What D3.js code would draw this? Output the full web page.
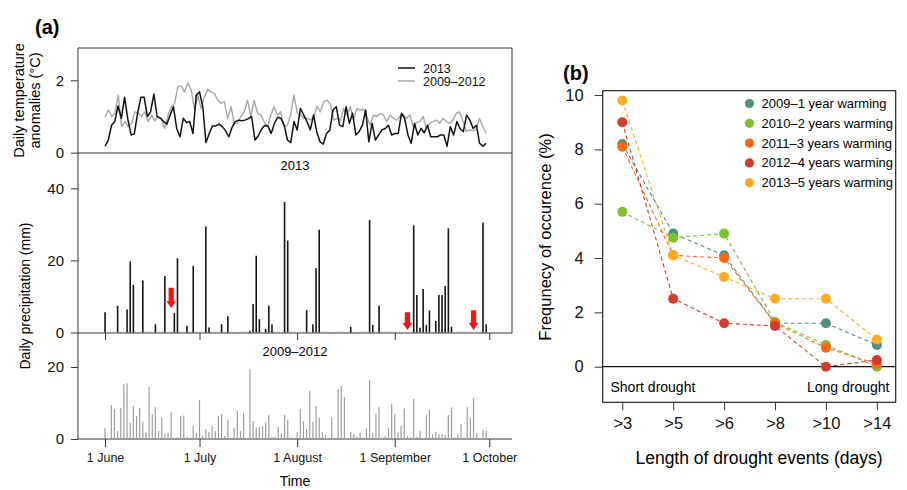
<!DOCTYPE html>
<html>
<head>
<meta charset="utf-8">
<script src="https://cdn.jsdelivr.net/npm/d3@7"></script>
<style>
  body { margin: 0; background: #fff; }
  svg { font-family: "Liberation Sans", Arial, sans-serif; }
</style>
</head>
<body>
<div class="container"></div>
<script>
var width = 907, height = 490;

// ---- panel (a) data ----
// daily temperature anomalies, 1 June .. 30 Sept
var temp2013 = [0.18, 0.35, 0.76, 0.86, 1.29, 0.95, 1.53, 0.92, 0.49, 0.52,
  1.09, 1.53, 1.53, 1.0, 1.13, 1.62, 1.0, 0.95, 0.86, 0.79,
  1.04, 1.27, 0.67, 0.44, 0.95, 0.83, 0.86, 0.53, 1.59, 1.68,
  1.27, 0.28, 0.53, 0.74, 0.74, 0.79, 0.72, 0.61, 0.44, 0.70,
  0.86, 0.90, 0.88, 0.90, 0.94, 1.0, 0.35, 0.46, 0.64, 0.75,
  0.74, 0.53, 0.81, 0.98, 0.95, 0.76, 0.35, 0.28, 0.86, 0.63,
  1.22, 1.04, 0.86, 0.63, 1.04, 0.58, 0.30, 0.24, 0.53, 0.63,
  1.18, 1.27, 0.76, 0.72, 1.27, 0.81, 1.09, 0.49, 0.58, 0.76,
  1.18, 0.30, 0.81, 0.35, 0.49, 0.63, 0.67, 0.76, 0.49, 0.53,
  0.53, 1.09, 0.95, 0.49, 0.26, 0.81, 0.49, 0.67, 0.55, 0.76,
  0.44, 0.44, 0.44, 0.49, 0.49, 0.18, 0.72, 0.49, 0.86, 0.67,
  0.58, 1.04, 0.90, 0.67, 0.76, 0.26, 0.18, 0.26];

var temp0912 = [0.98, 1.18, 1.0, 1.09, 1.59, 0.72, 0.86, 0.72, 0.81, 1.13,
  1.10, 1.0, 1.13, 0.86, 1.04, 0.88, 1.0, 0.95, 0.67, 1.04,
  1.27, 1.36, 1.84, 1.84, 1.68, 1.93, 1.73, 1.18, 1.59, 1.22,
  1.55, 1.75, 1.68, 1.64, 1.45, 1.36, 1.41, 0.95, 1.27, 0.81,
  0.81, 1.0, 1.13, 1.45, 1.0, 1.45, 1.09, 1.04, 0.86, 0.72,
  1.04, 1.27, 1.04, 1.13, 0.72, 0.76, 1.04, 1.59, 1.09, 1.04,
  0.95, 0.95, 0.90, 1.0, 1.29, 1.13, 1.41, 1.45, 1.34, 0.90,
  0.95, 0.90, 1.22, 1.04, 1.27, 0.90, 1.22, 1.18, 1.20, 1.0,
  0.76, 1.04, 1.0, 1.09, 1.04, 0.86, 1.04, 0.95, 0.90, 1.0,
  1.04, 0.95, 1.04, 0.72, 0.83, 0.86, 1.0, 0.67, 0.81, 0.86,
  0.90, 0.81, 0.95, 0.86, 0.81, 0.90, 1.09, 1.13, 0.86, 0.58,
  0.63, 0.61, 0.63, 0.95, 0.72, 0.53];

// 2013 daily precipitation (mm), rainy days only
var rain2013Dates = ["2013-06-01", "2013-06-05", "2013-06-08", "2013-06-09", "2013-06-10",
  "2013-06-13", "2013-06-17", "2013-06-20", "2013-06-23", "2013-06-24", "2013-06-27",
  "2013-06-29", "2013-07-03", "2013-07-04", "2013-07-08", "2013-07-10", "2013-07-17",
  "2013-07-18", "2013-07-19", "2013-07-20", "2013-07-22", "2013-07-23", "2013-07-24",
  "2013-07-28", "2013-07-29", "2013-08-04", "2013-08-06", "2013-08-07", "2013-08-08",
  "2013-08-18", "2013-08-24", "2013-08-25", "2013-08-27", "2013-09-07", "2013-09-08",
  "2013-09-09", "2013-09-10", "2013-09-11", "2013-09-12", "2013-09-14", "2013-09-15",
  "2013-09-16", "2013-09-17", "2013-09-18", "2013-09-19", "2013-09-29", "2013-09-30"];
var rain2013Values = [5.6, 7.4, 6.4, 19.7, 13.2,
  14.4, 2.3, 15.7, 5.4, 20.6, 1.9,
  18.5, 29.4, 1.4, 2.3, 4.5, 0.5,
  7.9, 21.3, 3.7, 1.0, 7.4, 2.3,
  36.2, 25.5, 6.2, 2.3, 17.8, 28.5,
  1.6, 31.2, 2.1, 7.4, 29.7, 10.4,
  1.3, 12.1, 2.1, 6.1, 3.2, 10.4,
  10.4, 12.9, 28.9, 1.6, 30.5, 2.3];

// 2009-2012 mean daily precipitation (mm), every day from 1 June
var rain0912 = [3.0, 0, 9.4, 8.3, 2.2, 8.7, 15.2, 15.5, 4.5, 9.2,
  6.4, 8.7, 4.8, 1.8, 14.4, 6.9, 8.9, 2.2, 5.9, 1.3,
  1.6, 7.4, 0, 0.5, 6.4, 6.5, 0.6, 0, 3.6, 1.6,
  10.8, 0.9, 2.7, 2.0, 3.7, 2.2, 6.4, 6.9, 0.8, 5.3,
  0, 3.1, 7.9, 2.2, 7.2, 0, 19.4, 5.1, 3.1, 3.3,
  3.6, 4.6, 6.7, 0.6, 0.6, 3.4, 1.6, 6.7, 5.3, 0.5,
  0, 1.9, 8.3, 5.0, 2.7, 13.3, 4.8, 9.2, 6.0, 1.9,
  1.1, 0, 6.0, 0, 13.8, 14.7, 11.7, 0, 2.0, 1.3,
  0.6, 1.8, 0.5, 3.0, 16.4, 1.8, 7.1, 8.8, 0.5, 0.8,
  3.0, 9.7, 6.9, 1.9, 3.6, 8.5, 0.8, 0.6, 11.2, 0.6,
  2.3, 0, 6.7, 8.2, 1.3, 2.0, 1.3, 1.4, 1.1, 6.7,
  8.8, 0.5, 1.3, 4.2, 0, 8.8, 5.9, 11.3, 1.6, 0,
  2.5, 2.2];

// red arrows in the 2013 panel (date, top, tip in mm)
var arrowDates = ["2013-06-22", "2013-09-05", "2013-09-26"];
var arrowTop = [12.4, 5.6, 6.2];
var arrowTip = [6.8, 0.7, 0.7];

var monthTicks = ["2013-06-01", "2013-07-01", "2013-08-01", "2013-09-01", "2013-10-01"];

// ---- panel (b) data ----
var droughtCats = [">3", ">5", ">6", ">8", ">10", ">14"];
var seriesNames = ["2009\u20131 year warming", "2010\u20132 years warming", "2011\u20133 years warming",
  "2012\u20134 years warming", "2013\u20135 years warming"];
var seriesColors = ["#4f8f82", "#7cc22f", "#ff6616", "#d03d2c", "#ffab20"];
var freq2009 = [8.2, 4.9, 4.1, 1.6, 1.6, 0.8];
var freq2010 = [5.7, 4.75, 4.9, 1.65, 0.8, 0.0];
var freq2011 = [8.1, 4.1, 4.0, 1.6, 0.7, 0.1];
var freq2012 = [9.0, 2.5, 1.6, 1.5, 0.0, 0.25];
var freq2013 = [9.8, 4.1, 3.3, 2.5, 2.5, 1.0];
var freqAll = [freq2009, freq2010, freq2011, freq2012, freq2013];

var parseDate = d3.timeParse("%Y-%m-%d");
var june1 = parseDate("2013-06-01");

var svg = d3.select("div.container").append("svg")
    .attr("width", width)
    .attr("height", height);

// ================= panel (a) =================
var ax = {left: 78, right: 512, top: 48, tMid: 153, rMid: 333, bottom: 439};

var x_time = d3.scaleTime()
    .domain([d3.timeHour.offset(june1, -206), d3.timeHour.offset(june1, 3101)])
    .range([ax.left, ax.right]);
var y_temp = d3.scaleLinear().domain([0, 2]).range([152.7, 80.3]);
var y_rain = d3.scaleLinear().domain([0, 40]).range([332.5, 188.3]);
var y_hist = d3.scaleLinear().domain([0, 20]).range([439, 367]);

var frameColor = "#333";
function hline(y, x1, x2) {
  svg.append("line").attr("x1", x1).attr("x2", x2).attr("y1", y).attr("y2", y)
      .attr("stroke", frameColor).attr("stroke-width", 1);
}
function vline(x, y1, y2) {
  svg.append("line").attr("x1", x).attr("x2", x).attr("y1", y1).attr("y2", y2)
      .attr("stroke", frameColor).attr("stroke-width", 1);
}
hline(ax.top, ax.left, ax.right);
hline(ax.tMid, ax.left, ax.right);
hline(ax.rMid, ax.left, ax.right);
hline(ax.bottom, ax.left, ax.right);
vline(ax.left, ax.top, ax.bottom);
vline(ax.right, ax.top, ax.rMid);

function styleAxis(g, size) {
  g.select(".domain").remove();
  g.selectAll(".tick line").attr("stroke", frameColor);
  g.selectAll(".tick text").attr("fill", "#111").style("font-size", size + "px")
      .style("font-family", "'Liberation Sans', Arial, sans-serif");
}

svg.append("g").attr("transform", "translate(" + ax.left + ",0)")
    .call(d3.axisLeft(y_temp).tickValues([0, 2]).tickSize(7).tickPadding(7).tickFormat(d3.format("d")))
    .call(styleAxis, 15);
svg.append("g").attr("transform", "translate(" + ax.left + ",0)")
    .call(d3.axisLeft(y_rain).tickValues([0, 20, 40]).tickSize(7).tickPadding(7))
    .call(styleAxis, 15);
svg.append("g").attr("transform", "translate(" + ax.left + ",0)")
    .call(d3.axisLeft(y_hist).tickValues([0, 20]).tickSize(7).tickPadding(7))
    .call(styleAxis, 15);

var monthDates = monthTicks.map(parseDate);
svg.append("g").attr("transform", "translate(0," + ax.rMid + ")")
    .call(d3.axisBottom(x_time).tickValues(monthDates).tickSize(7).tickFormat(""))
    .call(styleAxis, 12);
svg.append("g").attr("transform", "translate(0," + ax.bottom + ")")
    .call(d3.axisBottom(x_time).tickValues(monthDates).tickSize(8).tickPadding(6)
      .tickFormat(d3.timeFormat("1 %B")))
    .call(styleAxis, 12.5);

// temperature lines
function indexToDate(n) {
  var s = d3.scaleLinear().domain([0, n - 1]).range([0, 121 * 24]);
  return function (i) { return d3.timeHour.offset(june1, Math.round(s(i))); };
}
var tempLine = function (arr) {
  var toDate = indexToDate(arr.length);
  return d3.line()
      .x(function (d, i) { return x_time(toDate(i)); })
      .y(function (d) { return y_temp(d); })(arr);
};
svg.append("path")
    .attr("d", tempLine(temp0912))
    .attr("fill", "none").attr("stroke", "#a6a6a6").attr("stroke-width", 1.4)
    .attr("stroke-linejoin", "round");
svg.append("path")
    .attr("d", tempLine(temp2013))
    .attr("fill", "none").attr("stroke", "#111").attr("stroke-width", 1.5)
    .attr("stroke-linejoin", "round");

// temperature legend
svg.append("line").attr("x1", 398).attr("x2", 415).attr("y1", 68).attr("y2", 68)
    .attr("stroke", "#111").attr("stroke-width", 1.5);
svg.append("line").attr("x1", 398).attr("x2", 415).attr("y1", 81).attr("y2", 81)
    .attr("stroke", "#a6a6a6").attr("stroke-width", 1.5);
svg.append("text").attr("x", 423).attr("y", 72.5).text("2013")
    .style("font-size", "12.5px").attr("fill", "#111");
svg.append("text").attr("x", 423).attr("y", 85.5).text("2009\u20132012")
    .style("font-size", "12.5px").attr("fill", "#111");

// zero-day dotted baselines
[[y_rain, ax.rMid], [y_hist, ax.bottom]].forEach(function (p) {
  svg.append("line")
      .attr("x1", x_time(june1)).attr("x2", x_time(parseDate("2013-09-30")))
      .attr("y1", p[0](0) - 0.5).attr("y2", p[0](0) - 0.5)
      .attr("stroke", "#b59bc4").attr("stroke-width", 1)
      .attr("stroke-dasharray", "1,2");
});

// 2013 rain bars
svg.selectAll(".bar2013")
    .data(rain2013Dates.map(function (d, i) { return [parseDate(d), rain2013Values[i]]; }))
  .enter().append("line")
    .attr("class", "bar2013")
    .attr("x1", function (d) { return x_time(d[0]); })
    .attr("x2", function (d) { return x_time(d[0]); })
    .attr("y1", y_rain(0))
    .attr("y2", function (d) { return y_rain(d[1]); })
    .attr("stroke", "#151515").attr("stroke-width", 1.6);

// 2009-2012 rain bars
svg.selectAll(".bar0912")
    .data(rain0912.map(function (v, i) { return [d3.timeDay.offset(june1, i), v]; })
      .filter(function (d) { return d[1] > 0; }))
  .enter().append("line")
    .attr("class", "bar0912")
    .attr("x1", function (d) { return x_time(d[0]); })
    .attr("x2", function (d) { return x_time(d[0]); })
    .attr("y1", y_hist(0))
    .attr("y2", function (d) { return y_hist(d[1]); })
    .attr("stroke", "#9d9d9d").attr("stroke-width", 1.2);

// red arrows
arrowDates.forEach(function (d, i) {
  var cx = x_time(parseDate(d)), yt = y_rain(arrowTop[i]), yb = y_rain(arrowTip[i]);
  var hh = 7, sw = 2.6, hw = 4.8;
  var pts = [[cx - sw, yt], [cx + sw, yt], [cx + sw, yb - hh], [cx + hw, yb - hh],
             [cx, yb], [cx - hw, yb - hh], [cx - sw, yb - hh]];
  svg.append("path").attr("d", "M" + pts.join("L") + "Z").attr("fill", "#ff1010");
});

// panel (a) labels
svg.append("text").attr("x", 35).attr("y", 34).text("(a)")
    .style("font-size", "20px").style("font-weight", "bold");
svg.append("text").attr("x", (ax.left + ax.right) / 2).attr("y", 170).attr("text-anchor", "middle")
    .text("2013").style("font-size", "13px");
svg.append("text").attr("x", (ax.left + ax.right) / 2).attr("y", 356).attr("text-anchor", "middle")
    .text("2009\u20132012").style("font-size", "13px");
svg.append("text").attr("x", (ax.left + ax.right) / 2).attr("y", 486).attr("text-anchor", "middle")
    .text("Time").style("font-size", "14px");
svg.append("text").attr("transform", "translate(24,100.5) rotate(-90)").attr("text-anchor", "middle")
    .text("Daily temperature").style("font-size", "14.5px");
svg.append("text").attr("transform", "translate(40,100.5) rotate(-90)").attr("text-anchor", "middle")
    .text("anomalies (\u00b0C)").style("font-size", "14.5px");
svg.append("text").attr("transform", "translate(30,296) rotate(-90)").attr("text-anchor", "middle")
    .text("Daily precipitation (mm)").style("font-size", "14px");

// ================= panel (b) =================
var bx = {left: 602.7, right: 895.7, top: 90.7, bottom: 402.3};
var x_cat = d3.scaleLinear().domain([-0.385, 5.37]).range([bx.left, bx.right]);
var y_freq = d3.scaleLinear().domain([-1.31, 10.16]).range([bx.bottom, bx.top]);

svg.append("rect").attr("x", bx.left).attr("y", bx.top)
    .attr("width", bx.right - bx.left).attr("height", bx.bottom - bx.top)
    .attr("fill", "none").attr("stroke", "#222").attr("stroke-width", 1.2);

svg.append("g").attr("transform", "translate(" + bx.left + ",0)")
    .call(d3.axisLeft(y_freq).tickValues([0, 2, 4, 6, 8, 10]).tickSize(8).tickPadding(11))
    .call(styleAxis, 16.5);
svg.append("g").attr("transform", "translate(0," + bx.bottom + ")")
    .call(d3.axisBottom(x_cat).tickValues(d3.range(droughtCats.length)).tickSize(8).tickPadding(7)
      .tickFormat(function (i) { return droughtCats[i]; }))
    .call(styleAxis, 16.5);

svg.append("line").attr("x1", bx.left).attr("x2", bx.right)
    .attr("y1", y_freq(0)).attr("y2", y_freq(0))
    .attr("stroke", "#111").attr("stroke-width", 1.2);

var freqLine = d3.line()
    .x(function (d, i) { return x_cat(i); })
    .y(function (d) { return y_freq(d); });

freqAll.forEach(function (s, k) {
  svg.append("path").attr("d", freqLine(s))
      .attr("fill", "none").attr("stroke", seriesColors[k]).attr("stroke-width", 1.1)
      .attr("stroke-dasharray", "4,3");
});
freqAll.forEach(function (s, k) {
  svg.selectAll(".pt" + k).data(s).enter().append("circle")
      .attr("class", "pt" + k)
      .attr("cx", function (d, i) { return x_cat(i); })
      .attr("cy", function (d) { return y_freq(d); })
      .attr("r", 5)
      .attr("fill", seriesColors[k]);
});

// legend
seriesNames.forEach(function (name, k) {
  var ly = 103.5 + k * 19.8;
  svg.append("circle").attr("cx", 749.5).attr("cy", ly).attr("r", 4.6).attr("fill", seriesColors[k]);
  svg.append("text").attr("x", 761.5).attr("y", ly + 4.5).text(name).style("font-size", "13px");
});

svg.append("text").attr("x", 610.5).attr("y", 392).text("Short drought").style("font-size", "14px");
svg.append("text").attr("x", 889.5).attr("y", 392).attr("text-anchor", "end")
    .text("Long drought").style("font-size", "14px");

svg.append("text").attr("x", 563).attr("y", 80).text("(b)")
    .style("font-size", "20px").style("font-weight", "bold");
svg.append("text").attr("x", 759).attr("y", 464).attr("text-anchor", "middle")
    .text("Length of drought events (days)").style("font-size", "17.5px");
svg.append("text").attr("transform", "translate(551,237) rotate(-90)").attr("text-anchor", "middle")
    .text("Frequnecy of occurence (%)").style("font-size", "16.5px");
</script>
</body>
</html>
